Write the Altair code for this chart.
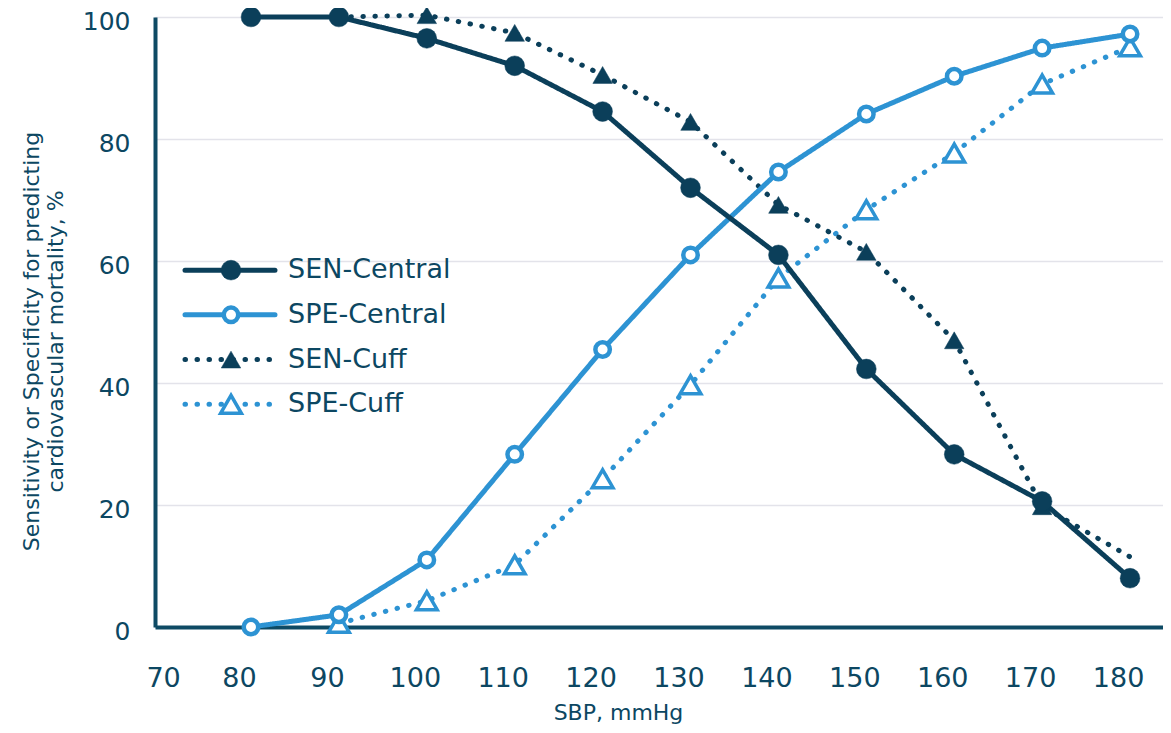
import altair as alt
import pandas as pd

# ---- data ----
series_names = ["SEN-Central", "SPE-Central", "SEN-Cuff", "SPE-Cuff"]
sbp = [80, 90, 100, 110, 120, 130, 140, 150, 160, 170, 180]
sen_central = [100, 100, 96.5, 92, 84.5, 72, 61, 42.3, 28.3, 20.6, 8]
spe_central = [0, 2, 11, 28.3, 45.5, 61, 74.6, 84.1, 90.3, 94.9, 97.2]
sen_cuff = [None, 100, 100.3, 97.4, 90.5, 82.8, 69.2, 61.5, 47, 19.8, 11.5]
spe_cuff = [None, 0.6, 4.3, 10.2, 24.3, 39.7, 57.2, 68.4, 77.7, 89, 95.1]
x_ticks = [70, 80, 90, 100, 110, 120, 130, 140, 150, 160, 170, 180]
y_ticks = [0, 20, 40, 60, 80, 100]

DARK = "#0b3f5a"
LIGHT = "#2d93d3"
TEXT = "#0c4762"
AXIS = "#0e4a64"
GRID = "#e3e3ea"
FONT = "DejaVu Sans"

values = {"SEN-Central": sen_central, "SPE-Central": spe_central,
          "SEN-Cuff": sen_cuff, "SPE-Cuff": spe_cuff}
draw_order = ["SPE-Cuff", "SEN-Cuff", "SPE-Central", "SEN-Central"]
rows = []
for s in draw_order:
    for xv, yv in zip(sbp, values[s]):
        if yv is not None:
            rows.append({"series": s, "sbp": xv, "value": yv})
df = pd.DataFrame(rows)

legend_df = pd.DataFrame({"series": series_names, "row": list(range(len(series_names)))})

x_enc = alt.X(
    "sbp:Q",
    scale=alt.Scale(domain=[69.08, 183.75], nice=False, zero=False),
    axis=alt.Axis(
        values=x_ticks, grid=False, ticks=False, tickSize=0,
        domainColor=AXIS, domainWidth=4,
        labelFont=FONT, labelFontSize=27, labelColor=TEXT, labelPadding=38,
        labelOverlap=False,
        labelOffset={"condition": {"test": "datum.value == 70", "value": 0}, "value": -12},
        title="SBP, mmHg", titleFont=FONT, titleFontSize=22, titleFontWeight="normal",
        titleColor=TEXT, titleX=463, titleY=92, titleAlign="center",
        titleBaseline="alphabetic",
    ),
)

y_scale = alt.Scale(domain=[0, 100], nice=False)
y_axis = alt.Axis(
    values=y_ticks, grid=True, gridColor=GRID, gridWidth=1.5,
    ticks=False, tickSize=0, domainColor=AXIS, domainWidth=4,
    labelFont=FONT, labelFontSize=25, labelColor=TEXT, labelPadding=25,
    labelOffset=4,
    title=["Sensitivity or Specificity for predicting", "cardiovascular mortality, %"],
    titleFont=FONT, titleFontSize=22, titleFontWeight="normal", titleColor=TEXT,
    titleAngle=270, titleX=-112, titleY=324, titleAlign="center",
    titleBaseline="bottom", titleLineHeight=24,
)


def y_of(field):
    return alt.Y(field, scale=y_scale, axis=y_axis)


y_enc = y_of("value:Q")

stroke_enc = alt.Stroke("series:N", scale=alt.Scale(domain=series_names, range=[DARK, LIGHT, DARK, LIGHT]), legend=None)
dash_enc = alt.StrokeDash("series:N", scale=alt.Scale(domain=series_names,
                          range=[[1, 0], [1, 0], [0.5, 11.5], [0.5, 11.5]]), legend=None)

marker_style = {
    "SEN-Central": dict(shape="circle", size=390, filled=True, fill=DARK, stroke=DARK, strokeWidth=0.5),
    "SPE-Central": dict(shape="circle", size=210, fill="white", stroke=LIGHT, strokeWidth=4.5),
    "SEN-Cuff": dict(shape="triangle-up", size=380, filled=True, fill=DARK, stroke=DARK, strokeWidth=0.5),
    "SPE-Cuff": dict(shape="triangle-up", size=430, fill="white", stroke=LIGHT, strokeWidth=3.5),
}

base = alt.Chart(df)

lines = base.mark_line(strokeWidth=5, strokeCap="round", strokeJoin="round").encode(
    x=x_enc, y=y_enc, stroke=stroke_enc, strokeDash=dash_enc, detail="series:N",
)

point_layers = []
for s in draw_order:
    cond = f"datum.series == '{s}'"
    if s == "SEN-Cuff":
        # the first and last SEN-Cuff points carry no marker in the reference
        cond += " && datum.sbp > 90 && datum.sbp < 180"
    point_layers.append(
        base.transform_filter(cond).mark_point(opacity=1, **marker_style[s]).encode(x=x_enc, y=y_enc)
    )

# ---- legend, drawn inside the plot ----
leg_base = alt.Chart(legend_df).transform_calculate(ly="58.5 - 7.33 * datum.row")
leg_y = y_of("ly:Q")

leg_lines = leg_base.mark_rule(strokeWidth=5, strokeCap="round").encode(
    x=alt.value(30), x2=alt.value(120), y=leg_y, stroke=stroke_enc, strokeDash=dash_enc,
)
leg_markers = [
    leg_base.transform_filter(f"datum.series == '{s}'").mark_point(opacity=1, **marker_style[s]).encode(
        x=alt.value(76), y=leg_y
    )
    for s in series_names
]
leg_text = leg_base.mark_text(
    align="left", baseline="middle", font=FONT, fontSize=27, color=TEXT
).encode(x=alt.value(133), y=leg_y, text="series:N")

chart = alt.layer(
    lines, *point_layers, leg_lines, *leg_markers, leg_text
).properties(
    width=1008, height=610,
    autosize=alt.AutoSizeParams(type="none"),
    padding={"left": 147, "top": 9, "right": 0, "bottom": 98},
).configure_view(strokeWidth=0).configure(background="white")

chart.save("out.html", embed_options={"renderer": "svg", "actions": False})
